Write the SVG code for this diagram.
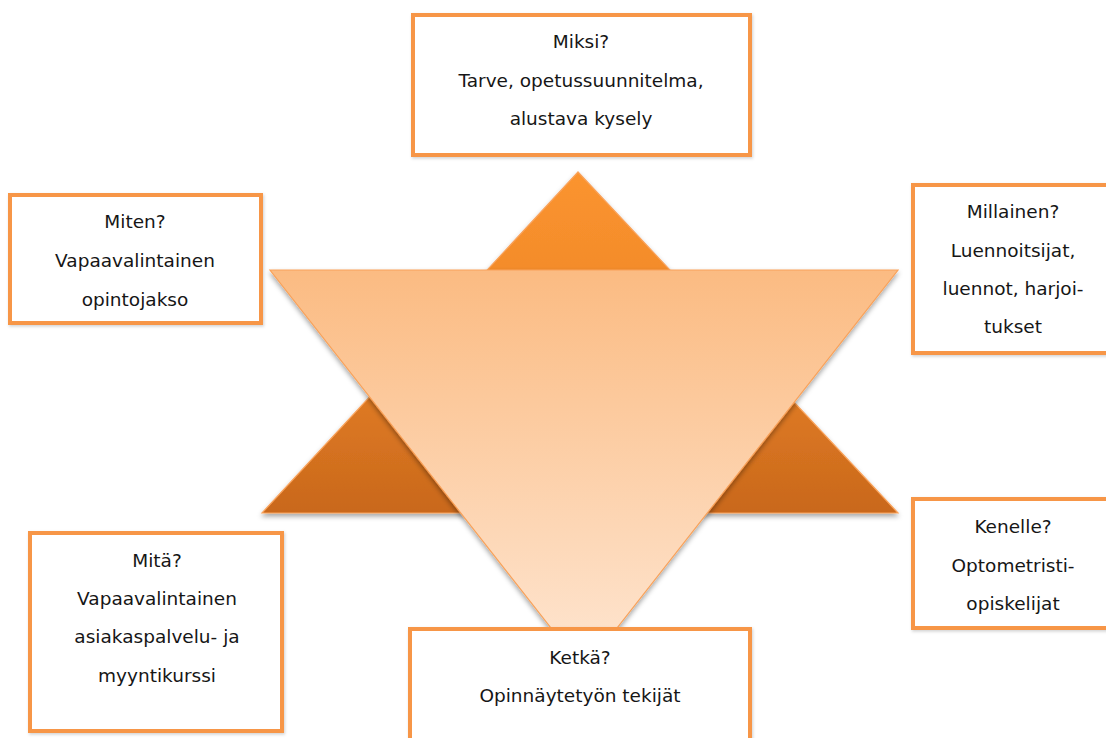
<svg xmlns="http://www.w3.org/2000/svg" width="1106" height="738" viewBox="0 0 1106 738">
  <defs>
    <linearGradient id="gUp" x1="0" y1="0" x2="0" y2="1">
      <stop offset="0" stop-color="#FB942F"/>
      <stop offset="0.35" stop-color="#F28A2A"/>
      <stop offset="1" stop-color="#C9681C"/>
    </linearGradient>
    <linearGradient id="gDown" x1="0" y1="0" x2="0" y2="1">
      <stop offset="0" stop-color="#FBBB82"/>
      <stop offset="1" stop-color="#FEE6D2"/>
    </linearGradient>
    <filter id="shadow" x="-10%" y="-10%" width="120%" height="120%">
      <feDropShadow dx="0" dy="3" stdDeviation="2.5" flood-color="#000" flood-opacity="0.35"/>
    </filter>
    <filter id="boxShadow" x="-5%" y="-5%" width="110%" height="110%">
      <feDropShadow dx="1" dy="1.5" stdDeviation="1.5" flood-color="#000" flood-opacity="0.18"/>
    </filter>
  </defs>
  <style>
    .box { fill: #FFFFFF; stroke: #F79646; stroke-width: 4; }
    .t { font-family: "DejaVu Sans", "Liberation Sans", sans-serif; font-size: 18.5px; fill: #161616; text-anchor: middle; }
    .tri { stroke: #F9A25A; stroke-width: 1.2; stroke-linejoin: miter; }
  </style>
  <rect width="1106" height="738" fill="#FFFFFF"/>

  <g id="star">
    <polygon id="up-triangle" class="tri" points="578,172 262,513 898,513" fill="url(#gUp)" filter="url(#shadow)"/>
    <polygon id="down-triangle" class="tri" points="270,270 898,270 584,670" fill="url(#gDown)" filter="url(#shadow)"/>
  </g>

  <g id="connectors"></g>

  <g id="node-miksi">
    <rect class="box" x="413" y="15" width="337" height="140" filter="url(#boxShadow)"/>
    <text class="t" x="581" y="48">Miksi?</text>
    <text class="t" x="581" y="87">Tarve, opetussuunnitelma,</text>
    <text class="t" x="581" y="125">alustava kysely</text>
  </g>

  <g id="node-miten">
    <rect class="box" x="10" y="195" width="251" height="128" filter="url(#boxShadow)"/>
    <text class="t" x="135" y="228">Miten?</text>
    <text class="t" x="135" y="267">Vapaavalintainen</text>
    <text class="t" x="135" y="306">opintojakso</text>
  </g>

  <g id="node-millainen">
    <rect class="box" x="913" y="185" width="210" height="168" filter="url(#boxShadow)"/>
    <text class="t" x="1013" y="218">Millainen?</text>
    <text class="t" x="1013" y="257">Luennoitsijat,</text>
    <text class="t" x="1013" y="295">luennot, harjoi-</text>
    <text class="t" x="1013" y="333">tukset</text>
  </g>

  <g id="node-mita">
    <rect class="box" x="30" y="533" width="252" height="198" filter="url(#boxShadow)"/>
    <text class="t" x="157" y="567">Mitä?</text>
    <text class="t" x="157" y="605">Vapaavalintainen</text>
    <text class="t" x="157" y="643">asiakaspalvelu- ja</text>
    <text class="t" x="157" y="682">myyntikurssi</text>
  </g>

  <g id="node-ketka">
    <rect class="box" x="410" y="629" width="340" height="130" filter="url(#boxShadow)"/>
    <text class="t" x="580" y="664">Ketkä?</text>
    <text class="t" x="580" y="702">Opinnäytetyön tekijät</text>
  </g>

  <g id="node-kenelle">
    <rect class="box" x="913" y="499" width="210" height="129" filter="url(#boxShadow)"/>
    <text class="t" x="1013" y="533">Kenelle?</text>
    <text class="t" x="1013" y="572">Optometristi-</text>
    <text class="t" x="1013" y="610">opiskelijat</text>
  </g>
</svg>
